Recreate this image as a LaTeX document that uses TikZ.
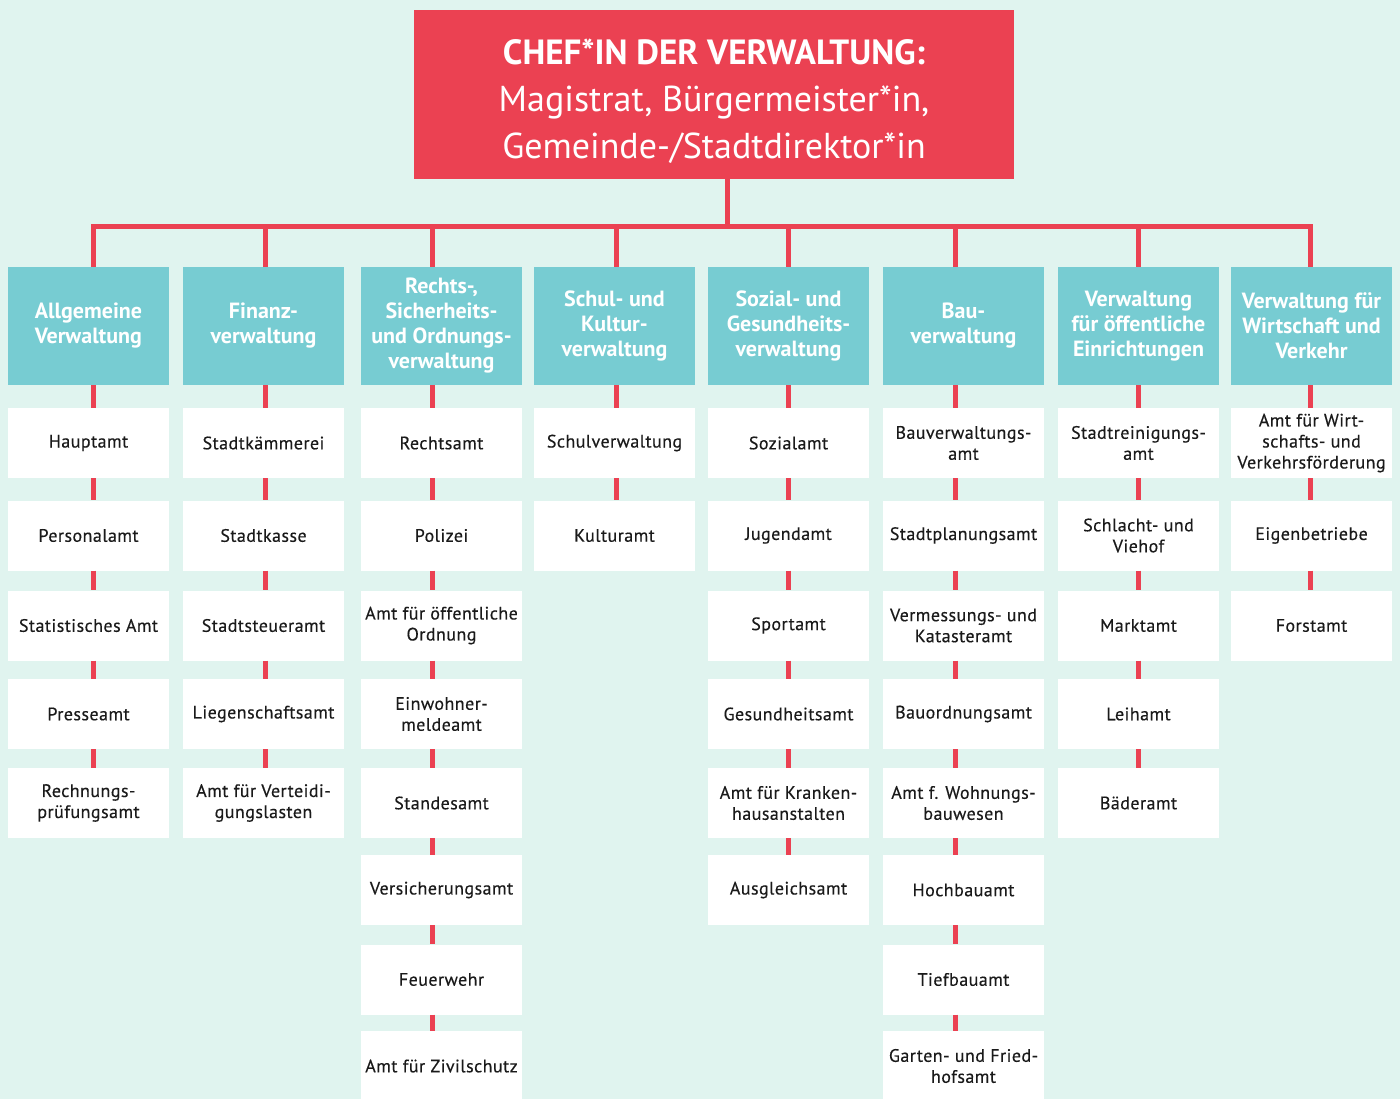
\documentclass[tikz,border=0pt]{standalone}
\usepackage{fontspec}
\setmainfont{PT Sans}
\newfontfamily\boxfont[LetterSpace=2.5,FakeBold=0.35]{PT Sans}
\definecolor{bgc}{HTML}{E0F4EF}
\definecolor{redc}{HTML}{EB4152}
\definecolor{tealc}{HTML}{77CCD2}
\definecolor{txtc}{HTML}{1A1A1A}
\tikzset{
  wbox/.style={rectangle, fill=white, minimum width=161pt, minimum height=70pt, inner sep=0pt, align=center, text=txtc, font=\boxfont\fontsize{18}{21}\selectfont},
  hbox/.style={rectangle, fill=tealc, minimum width=161pt, minimum height=118pt, inner sep=0pt, align=center, text=white, font=\bfseries\fontsize{22}{25}\selectfont},
  chefbox/.style={rectangle, fill=redc, minimum width=600pt, minimum height=169pt, inner sep=0pt, align=center, text=white, font=\fontsize{36}{47}\selectfont},
  conn/.style={draw=redc, line width=5pt}
}
\begin{document}
\begin{tikzpicture}[x=1pt,y=-1pt]
\useasboundingbox (0,0) rectangle (1400,1099);
\fill[bgc] (0,0) rectangle (1400,1099);
\begin{scope}
\clip (0,0) rectangle (1400,1099);
% chief
\node[chefbox] (chef) at (714,94.5) {\rule{0pt}{40pt}{\bfseries\fontsize{35}{47}\selectfont CHEF*IN DER VERWALTUNG:}\\
Magistrat, Bürgermeister*in,\\
Gemeinde-/Stadtdirektor*in};
% headers
\node[hbox] (h1) at (88.5,326) {Allgemeine\\Verwaltung};
\node[hbox] (h2) at (263.5,326) {Finanz-\\verwaltung};
\node[hbox] (h3) at (441.5,326) {Rechts-,\\Sicherheits-\\und Ordnungs-\\verwaltung};
\node[hbox] (h4) at (614.5,326) {Schul- und\\Kultur-\\verwaltung};
\node[hbox] (h5) at (788.5,326) {Sozial- und\\Gesundheits-\\verwaltung};
\node[hbox] (h6) at (963.5,326) {Bau-\\verwaltung};
\node[hbox] (h7) at (1138.5,326) {Verwaltung\\für öffentliche\\Einrichtungen};
\node[hbox] (h8) at (1311.5,326) {Verwaltung für\\Wirtschaft und\\Verkehr};
% column 1
\node[wbox] (a1) at (88.5,443) {Hauptamt};
\node[wbox] (a2) at (88.5,535.5) {Personalamt};
\node[wbox] (a3) at (88.5,625.5) {Statistisches Amt};
\node[wbox] (a4) at (88.5,714) {Presseamt};
\node[wbox] (a5) at (88.5,803) {Rechnungs-\\prüfungsamt};
% column 2
\node[wbox] (b1) at (263.5,443) {Stadtkämmerei};
\node[wbox] (b2) at (263.5,535.5) {Stadtkasse};
\node[wbox] (b3) at (263.5,625.5) {Stadtsteueramt};
\node[wbox] (b4) at (263.5,714) {Liegenschaftsamt};
\node[wbox] (b5) at (263.5,803) {Amt für Verteidi-\\gungslasten};
% column 3
\node[wbox] (c1) at (441.5,443) {Rechtsamt};
\node[wbox] (c2) at (441.5,535.5) {Polizei};
\node[wbox] (c3) at (441.5,625.5) {Amt für öffentliche\\Ordnung};
\node[wbox] (c4) at (441.5,714) {Einwohner-\\meldeamt};
\node[wbox] (c5) at (441.5,803) {Standesamt};
\node[wbox] (c6) at (441.5,890) {Versicherungsamt};
\node[wbox] (c7) at (441.5,979.5) {Feuerwehr};
\node[wbox] (c8) at (441.5,1066) {Amt für Zivilschutz};
% column 4
\node[wbox] (d1) at (614.5,443) {Schulverwaltung};
\node[wbox] (d2) at (614.5,535.5) {Kulturamt};
% column 5
\node[wbox] (e1) at (788.5,443) {Sozialamt};
\node[wbox] (e2) at (788.5,535.5) {Jugendamt};
\node[wbox] (e3) at (788.5,625.5) {Sportamt};
\node[wbox] (e4) at (788.5,714) {Gesundheitsamt};
\node[wbox] (e5) at (788.5,803) {Amt für Kranken-\\hausanstalten};
\node[wbox] (e6) at (788.5,890) {Ausgleichsamt};
% column 6
\node[wbox] (f1) at (963.5,443) {Bauverwaltungs-\\amt};
\node[wbox] (f2) at (963.5,535.5) {Stadtplanungsamt};
\node[wbox] (f3) at (963.5,625.5) {Vermessungs- und\\Katasteramt};
\node[wbox] (f4) at (963.5,714) {Bauordnungsamt};
\node[wbox] (f5) at (963.5,803) {Amt f. Wohnungs-\\bauwesen};
\node[wbox] (f6) at (963.5,890) {Hochbauamt};
\node[wbox] (f7) at (963.5,979.5) {Tiefbauamt};
\node[wbox] (f8) at (963.5,1066) {Garten- und Fried-\\hofsamt};
% column 7
\node[wbox] (g1) at (1138.5,443) {Stadtreinigungs-\\amt};
\node[wbox] (g2) at (1138.5,535.5) {Schlacht- und\\Viehof};
\node[wbox] (g3) at (1138.5,625.5) {Marktamt};
\node[wbox] (g4) at (1138.5,714) {Leihamt};
\node[wbox] (g5) at (1138.5,803) {Bäderamt};
% column 8
\node[wbox] (k1) at (1311.5,443) {Amt für Wirt-\\schafts- und\\Verkehrsförderung};
\node[wbox] (k2) at (1311.5,535.5) {Eigenbetriebe};
\node[wbox] (k3) at (1311.5,625.5) {Forstamt};
% connector coordinates
\coordinate (bus) at (727,227);
\coordinate (v1) at (93,227);
\coordinate (v2) at (265,227);
\coordinate (v3) at (432,227);
\coordinate (v4) at (616,227);
\coordinate (v5) at (788,227);
\coordinate (v6) at (955,227);
\coordinate (v7) at (1138,227);
\coordinate (v8) at (1310,227);
% connectors
\draw[conn] (chef.south -| bus) -- (bus);
\draw[conn, line join=miter] (h1.north -| v1) -- (v1) -- (v8) -- (h8.north -| v8);
\foreach \v/\h in {v2/h2,v3/h3,v4/h4,v5/h5,v6/h6,v7/h7}
  \draw[conn] (\v) -- (\h.north -| \v);
\foreach \v/\h/\cc/\n in {v1/h1/a/5,v2/h2/b/5,v3/h3/c/8,v4/h4/d/2,v5/h5/e/6,v6/h6/f/8,v7/h7/g/5,v8/h8/k/3}{
  \draw[conn] (\h.south -| \v) -- (\cc1.north -| \v);
  \pgfmathtruncatemacro\mm{\n-1}
  \foreach \i in {1,...,\mm}{
    \pgfmathtruncatemacro\jj{\i+1}
    \draw[conn] (\cc\i.south -| \v) -- (\cc\jj.north -| \v);
  }
}
\end{scope}
\end{tikzpicture}
\end{document}
